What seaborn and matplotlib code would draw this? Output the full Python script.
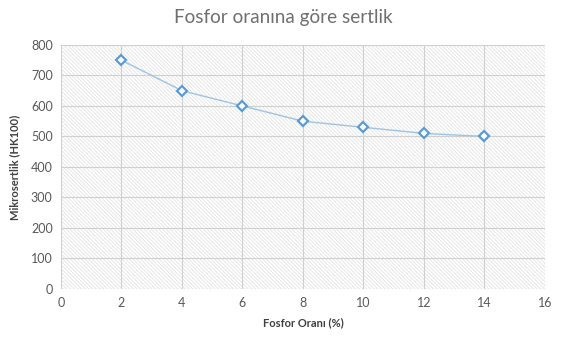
import matplotlib
matplotlib.use("Agg")
import matplotlib.pyplot as plt
import seaborn as sns
import pandas as pd

fosfor = [2, 4, 6, 8, 10, 12, 14]
sertlik = [750, 650, 600, 550, 530, 510, 500]
x_ticks = [0, 2, 4, 6, 8, 10, 12, 14, 16]
y_ticks = [0, 100, 200, 300, 400, 500, 600, 700, 800]

sns.set_theme(style="white")
plt.rcParams['font.family'] = ['Lato', 'DejaVu Sans']
plt.rcParams['hatch.color'] = '#dedede'
plt.rcParams['hatch.linewidth'] = 0.5

df = pd.DataFrame({"x": fosfor, "y": sertlik})

fig = plt.figure(figsize=(5.67, 3.46), dpi=100)
ax = fig.add_axes([0.1076, 0.165, 0.8534, 0.705])
ax.patch.set_facecolor('white')
ax.patch.set_hatch('\\' * 9)
ax.patch.set_edgecolor('#dedede')

sns.lineplot(data=df, x="x", y="y", ax=ax, color='#9dc3e6', linewidth=1.0,
             marker='D', markersize=5, markerfacecolor='white',
             markeredgecolor='#5b9bd5', markeredgewidth=1.6, zorder=3)

ax.set_xlim(0, 16)
ax.set_ylim(0, 800)
ax.set_xticks(x_ticks)
ax.set_yticks(y_ticks)
ax.grid(True, color='#d0d0d0', linewidth=0.8)
ax.set_axisbelow(True)
for s in ax.spines.values():
    s.set_visible(False)
ax.tick_params(axis='both', labelsize=9, colors='#595959', length=0, pad=6)

ax.set_xlabel('Fosfor Oranı (%)', fontsize=8, fontweight='bold', color='#404040', labelpad=6)
ax.set_ylabel('Mikrosertlik (HK100)', fontsize=8, fontweight='bold', color='#404040', labelpad=8)
fig.suptitle('Fosfor oranına göre sertlik', fontsize=13.6, color='#6f6f6f', y=0.975)

fig.savefig('out.png', dpi=100, facecolor='white')
